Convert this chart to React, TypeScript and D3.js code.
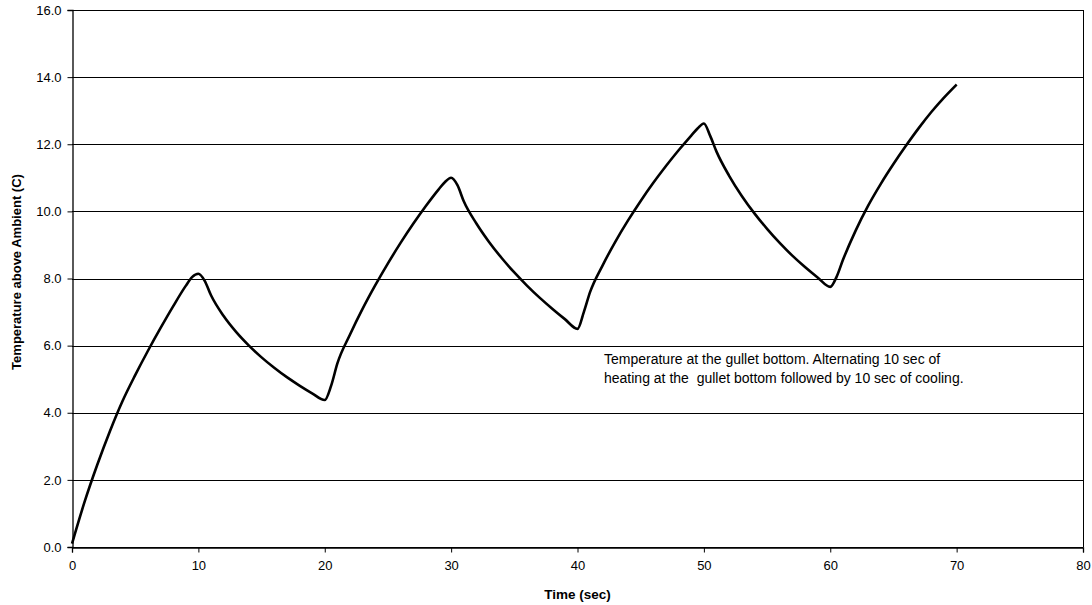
import React, { useEffect, useRef } from 'react'
import * as d3 from 'd3'

// [time (sec), temperature above ambient (C)],
// one list per 10 s heating / cooling phase
const heating1: [number, number][] = [
  [0, 0.1], [1, 1.35], [2, 2.45], [3, 3.45], [4, 4.35], [5, 5.12], [6, 5.84],
  [7, 6.52], [8, 7.17], [9, 7.78], [9.5, 8.04], [10, 8.14],
]
const cooling1: [number, number][] = [
  [10.5, 7.93], [11, 7.5], [12, 6.88], [13, 6.4], [14, 6.0], [15, 5.65],
  [16, 5.34], [17, 5.06], [18, 4.81], [19, 4.58], [20, 4.38],
]
const heating2: [number, number][] = [
  [20.5, 4.8], [21, 5.47], [22, 6.33], [23, 7.1], [24, 7.8], [25, 8.45],
  [26, 9.06], [27, 9.63], [28, 10.16], [29, 10.65], [29.5, 10.87], [30, 11.0],
]
const cooling2: [number, number][] = [
  [30.5, 10.78], [31, 10.3], [32, 9.64], [33, 9.09], [34, 8.61], [35, 8.18],
  [36, 7.79], [37, 7.43], [38, 7.1], [39, 6.79], [40, 6.5],
]
const heating3: [number, number][] = [
  [40.5, 7.0], [41, 7.6], [42, 8.4], [43, 9.1], [44, 9.73], [45, 10.31],
  [46, 10.85], [47, 11.35], [48, 11.82], [49, 12.26], [49.5, 12.47], [50, 12.62],
]
const cooling3: [number, number][] = [
  [50.5, 12.25], [51, 11.78], [52, 11.06], [53, 10.46], [54, 9.94], [55, 9.48],
  [56, 9.06], [57, 8.68], [58, 8.34], [59, 8.03], [60, 7.75],
]
const heating4: [number, number][] = [
  [60.5, 8.05], [61, 8.55], [62, 9.42], [63, 10.17], [64, 10.82], [65, 11.41],
  [66, 11.96], [67, 12.48], [68, 12.96], [69, 13.39], [70, 13.78],
]

const readings = [...heating1, ...cooling1, ...heating2, ...cooling2, ...heating3, ...cooling3, ...heating4]

const xTickValues = [0, 10, 20, 30, 40, 50, 60, 70, 80]
const yTickValues = [0, 2, 4, 6, 8, 10, 12, 14, 16]

const noteLines = [
  'Temperature at the gullet bottom. Alternating 10 sec of',
  'heating at the  gullet bottom followed by 10 sec of cooling.',
]

const W = 1092
const H = 605
const margin = { top: 10, right: 9, bottom: 58, left: 72 }
const font = 'Arial, "Liberation Sans", Helvetica, sans-serif'

export default function App() {
  const ref = useRef<SVGSVGElement>(null)

  useEffect(() => {
    const svg = d3.select(ref.current)
    svg.selectAll('*').remove()

    const x = d3.scaleLinear().domain([0, 80]).range([margin.left, W - margin.right])
    const y = d3.scaleLinear().domain([0, 16]).range([H - margin.bottom, margin.top])

    const g = svg.append('g')

    // horizontal gridlines
    g.append('g')
      .selectAll('line')
      .data(yTickValues)
      .join('line')
      .attr('x1', x(0))
      .attr('x2', x(80))
      .attr('y1', (d) => Math.round(y(d)) + 0.5)
      .attr('y2', (d) => Math.round(y(d)) + 0.5)
      .attr('stroke', '#000')
      .attr('stroke-width', 1)

    // right border of the plot area
    g.append('line')
      .attr('x1', Math.round(x(80)) + 0.5).attr('x2', Math.round(x(80)) + 0.5)
      .attr('y1', y(16)).attr('y2', y(0))
      .attr('stroke', '#000')

    const yAxis = g.append('g')
      .attr('transform', `translate(${Math.round(x(0)) + 0.5},0)`)
      .call(d3.axisLeft(y).tickValues(yTickValues).tickFormat(d3.format('.1f')).tickSizeOuter(0).tickSize(5).tickPadding(6))
    yAxis.selectAll('text').attr('font-size', 13).attr('fill', '#000')

    const xAxis = g.append('g')
      .attr('transform', `translate(0,${Math.round(y(0)) + 0.5})`)
      .call(d3.axisBottom(x).tickValues(xTickValues).tickFormat(d3.format('d')).tickSizeOuter(0).tickSize(5).tickPadding(8))
    xAxis.selectAll('text').attr('font-size', 13).attr('fill', '#000')

    svg.selectAll('.domain').attr('stroke', '#000').attr('stroke-width', 1.3)
    svg.selectAll('.tick line').attr('stroke', '#000')
    svg.selectAll('.tick text').attr('font-family', font)

    // temperature curve
    const line = d3.line<[number, number]>()
      .x((d) => x(d[0]))
      .y((d) => y(d[1]))
      .curve(d3.curveMonotoneX)

    g.append('path')
      .datum(readings)
      .attr('d', line)
      .attr('fill', 'none')
      .attr('stroke', '#000')
      .attr('stroke-width', 2.6)
      .attr('stroke-linejoin', 'round')

    // note inside the plot
    g.append('text')
      .attr('font-family', font)
      .attr('font-size', 14)
      .attr('fill', '#000')
      .style('white-space', 'pre')
      .selectAll('tspan')
      .data(noteLines)
      .join('tspan')
      .attr('x', 604)
      .attr('y', (_, i) => 364 + i * 19)
      .text((d) => d)

    // axis titles
    svg.append('text')
      .attr('x', (x(0) + x(80)) / 2)
      .attr('y', 599)
      .attr('text-anchor', 'middle')
      .attr('font-family', font)
      .attr('font-size', 13.5)
      .attr('font-weight', 'bold')
      .text('Time (sec)')

    svg.append('text')
      .attr('transform', 'translate(21,272) rotate(-90)')
      .attr('text-anchor', 'middle')
      .attr('font-family', font)
      .attr('font-size', 13)
      .attr('font-weight', 'bold')
      .text('Temperature above Ambient (C)')
  }, [])

  return (
    <svg
      ref={ref}
      width={W}
      height={H}
      style={{ position: 'absolute', left: 0, top: 0, background: '#fff' }}
    />
  )
}
